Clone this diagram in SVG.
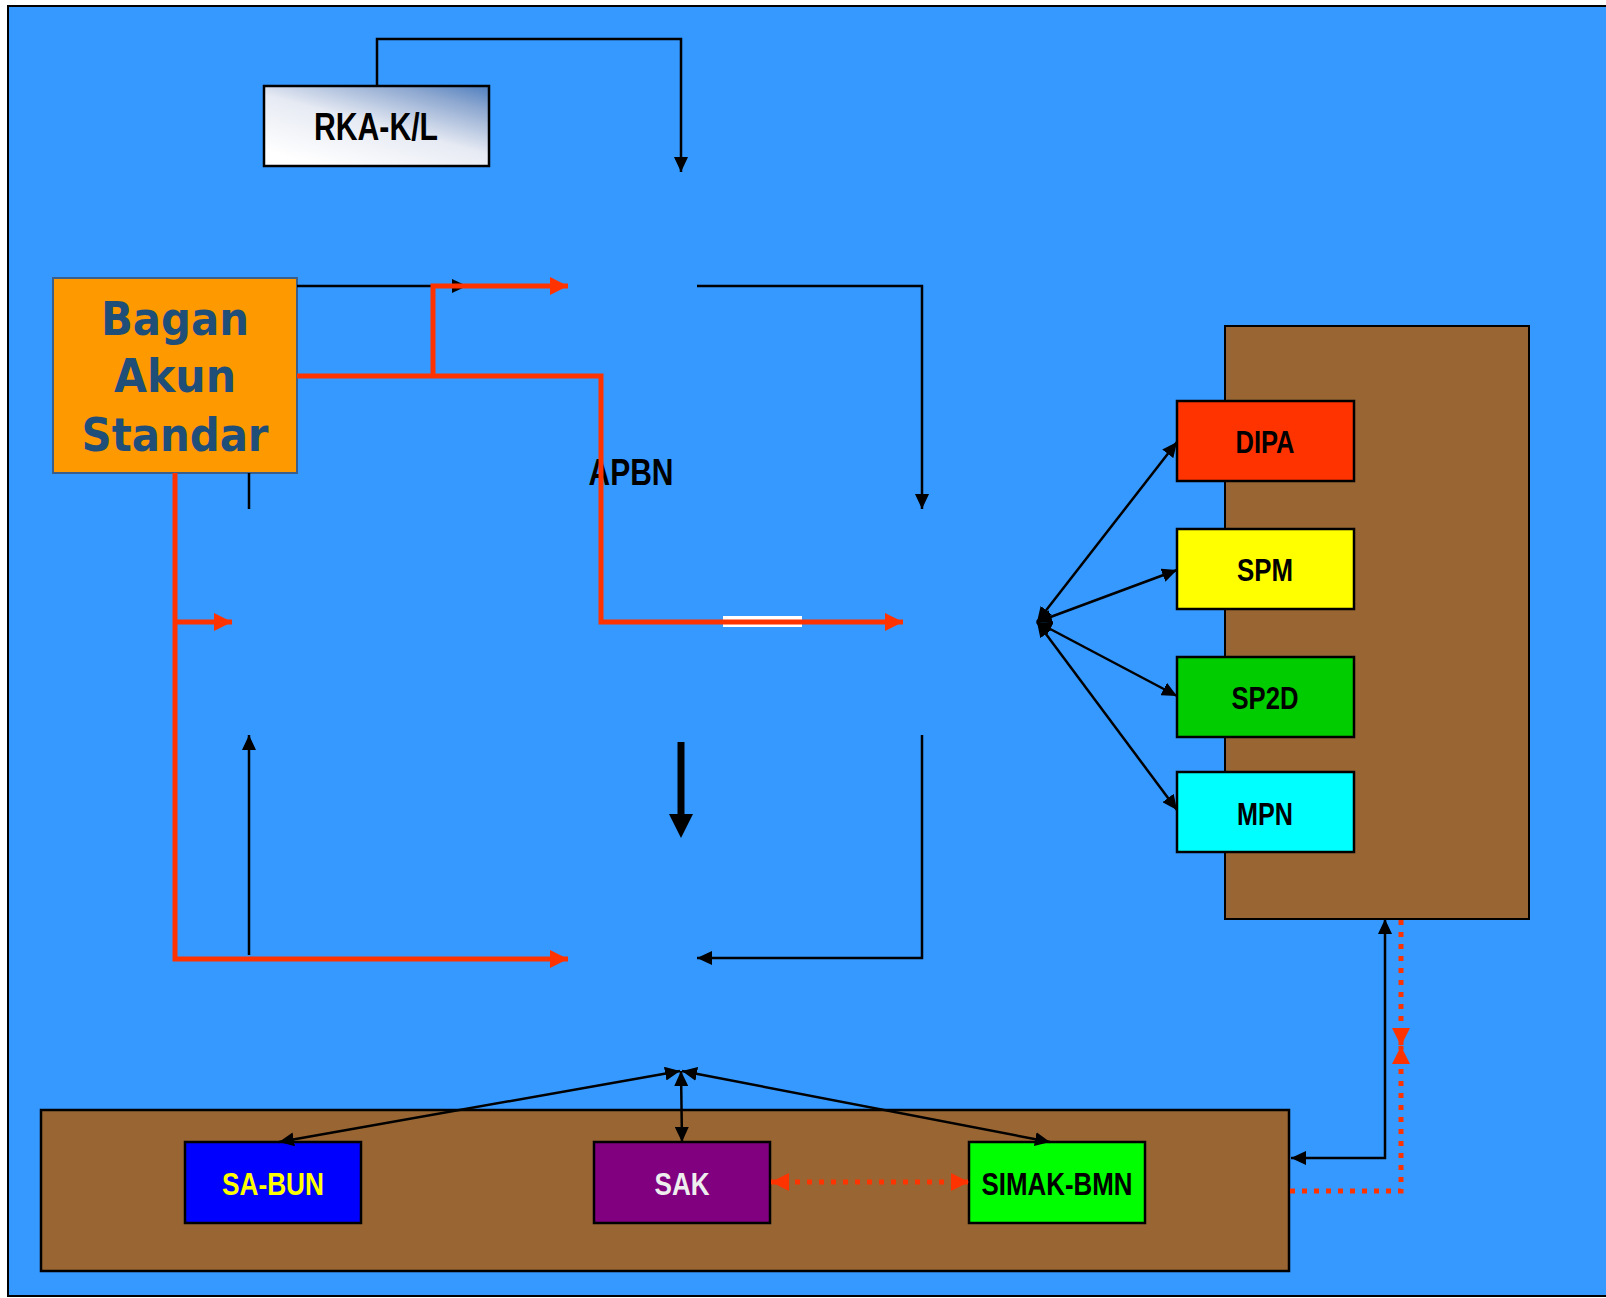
<svg xmlns="http://www.w3.org/2000/svg" width="1606" height="1298" viewBox="0 0 1606 1298">
<defs>
<linearGradient id="rkaGrad" x1="0.25" y1="1" x2="1" y2="0">
<stop offset="0" stop-color="#ffffff"/>
<stop offset="0.45" stop-color="#e6eaf3"/>
<stop offset="0.8" stop-color="#8ea8d0"/>
<stop offset="1" stop-color="#4f7fbf"/>
</linearGradient>
<marker id="ab" markerUnits="userSpaceOnUse" markerWidth="15" markerHeight="14" viewBox="0 0 15 14" refX="15" refY="7" orient="auto-start-reverse"><path d="M0,0 L15,7 L0,14 z" fill="#000"/></marker>
<marker id="ar" markerUnits="userSpaceOnUse" markerWidth="18" markerHeight="18" viewBox="0 0 18 18" refX="18" refY="9" orient="auto-start-reverse"><path d="M0,0 L18,9 L0,18 z" fill="#ff3300"/></marker>
<marker id="athick" markerUnits="userSpaceOnUse" markerWidth="24" markerHeight="24" viewBox="0 0 24 24" refX="2" refY="12" orient="auto"><path d="M0,0 L24,12 L0,24 z" fill="#000"/></marker>
<style>
.box{stroke:#000;stroke-width:2.5}
.lbl{font-family:"Liberation Sans Narrow","Liberation Sans",Arial,sans-serif;font-weight:bold;text-anchor:middle}
.blk{fill:none;stroke:#000;stroke-width:2.5}
.red{fill:none;stroke:#ff3300;stroke-width:5}
.dot{fill:none;stroke:#ff3300;stroke-width:5;stroke-dasharray:5 7}
.bas{font-family:"DejaVu Sans",Verdana,sans-serif;font-weight:bold;fill:#1f4e79;text-anchor:middle;font-size:46px}
</style>
</defs>
<rect x="8" y="6" width="1610" height="1290" fill="#3699ff" stroke="#000" stroke-width="2"/>

<g id="container-right"><rect x="1225" y="326" width="304" height="593" fill="#996633" stroke="#000" stroke-width="2"/></g>
<g id="container-bottom"><rect x="41" y="1110" width="1248" height="161" fill="#996633" stroke="#000" stroke-width="2.5"/></g>

<g id="rka"><rect x="264" y="86" width="225" height="80" fill="url(#rkaGrad)" class="box"/>
<text x="376" y="140" class="lbl" font-size="38" textLength="124" lengthAdjust="spacingAndGlyphs">RKA-K/L</text></g>

<g id="bas"><rect x="53" y="278" width="244" height="195" fill="#ff9900" stroke="#3a5f8a" stroke-width="2"/>
<text x="175" y="335" class="bas" textLength="148" lengthAdjust="spacingAndGlyphs">Bagan</text>
<text x="175" y="392" class="bas" textLength="122" lengthAdjust="spacingAndGlyphs">Akun</text>
<text x="175" y="451" class="bas" textLength="187" lengthAdjust="spacingAndGlyphs">Standar</text></g>

<g id="apbn"><text x="631" y="485" class="lbl" font-size="36" textLength="85" lengthAdjust="spacingAndGlyphs">APBN</text></g>

<g id="dipa"><rect x="1177" y="401" width="177" height="80" fill="#ff3300" class="box"/>
<text x="1265" y="453" class="lbl" font-size="32" textLength="59" lengthAdjust="spacingAndGlyphs">DIPA</text></g>
<g id="spm"><rect x="1177" y="529" width="177" height="80" fill="#ffff00" class="box"/>
<text x="1265" y="581" class="lbl" font-size="32" textLength="56" lengthAdjust="spacingAndGlyphs">SPM</text></g>
<g id="sp2d"><rect x="1177" y="657" width="177" height="80" fill="#00cc00" class="box"/>
<text x="1265" y="709" class="lbl" font-size="32" textLength="67" lengthAdjust="spacingAndGlyphs">SP2D</text></g>
<g id="mpn"><rect x="1177" y="772" width="177" height="80" fill="#00ffff" class="box"/>
<text x="1265" y="825" class="lbl" font-size="32" textLength="56" lengthAdjust="spacingAndGlyphs">MPN</text></g>

<g id="sabun"><rect x="185" y="1142" width="176" height="81" fill="#0000ff" class="box"/>
<text x="273" y="1195" class="lbl" font-size="32" fill="#ffff00" textLength="102" lengthAdjust="spacingAndGlyphs">SA-BUN</text></g>
<g id="sak"><rect x="594" y="1142" width="176" height="81" fill="#800080" class="box"/>
<text x="682" y="1195" class="lbl" font-size="32" fill="#eeeeee" textLength="55" lengthAdjust="spacingAndGlyphs">SAK</text></g>
<g id="simak"><rect x="969" y="1142" width="176" height="81" fill="#00ff00" class="box"/>
<text x="1057" y="1195" class="lbl" font-size="32" fill="#000" textLength="151" lengthAdjust="spacingAndGlyphs">SIMAK-BMN</text></g>

<g id="connectors">
<polyline class="blk" points="377,86 377,39 681,39 681,172" marker-end="url(#ab)"/>
<line class="blk" x1="297" y1="286" x2="467" y2="286" marker-end="url(#ab)"/>
<polyline class="blk" points="697,286 922,286 922,509" marker-end="url(#ab)"/>
<line class="blk" x1="249" y1="473" x2="249" y2="509"/>
<line class="blk" x1="249" y1="955" x2="249" y2="735" marker-end="url(#ab)"/>
<polyline class="blk" points="922,735 922,958 697,958" marker-end="url(#ab)"/>
<line x1="681" y1="742" x2="681" y2="816" stroke="#000" stroke-width="7" marker-end="url(#athick)"/>

<rect x="723" y="616" width="79" height="11" fill="#ffffff"/>
<polyline class="red" points="297,376 601,376 601,622 903,622" marker-end="url(#ar)"/>
<polyline class="red" points="433,376 433,286 568,286" marker-end="url(#ar)"/>
<polyline class="red" points="175,473 175,959 568,959" marker-end="url(#ar)"/>
<line class="red" x1="175" y1="622" x2="232" y2="622" marker-end="url(#ar)"/>

<line class="blk" x1="1037" y1="622" x2="1177" y2="442" marker-start="url(#ab)" marker-end="url(#ab)"/>
<line class="blk" x1="1037" y1="622" x2="1177" y2="570" marker-start="url(#ab)" marker-end="url(#ab)"/>
<line class="blk" x1="1037" y1="622" x2="1177" y2="696" marker-start="url(#ab)" marker-end="url(#ab)"/>
<line class="blk" x1="1037" y1="622" x2="1177" y2="810" marker-start="url(#ab)" marker-end="url(#ab)"/>

<line class="blk" x1="680" y1="1071" x2="279" y2="1142" marker-start="url(#ab)" marker-end="url(#ab)"/>
<line class="blk" x1="681" y1="1071" x2="682" y2="1142" marker-start="url(#ab)" marker-end="url(#ab)"/>
<line class="blk" x1="682" y1="1071" x2="1050" y2="1142" marker-start="url(#ab)" marker-end="url(#ab)"/>

<line class="dot" x1="771" y1="1182" x2="969" y2="1182" marker-start="url(#ar)" marker-end="url(#ar)"/>

<polyline class="blk" points="1385,919 1385,1158 1291,1158" marker-start="url(#ab)" marker-end="url(#ab)"/>
<line class="dot" x1="1401" y1="920" x2="1401" y2="1046" marker-end="url(#ar)"/>
<polyline class="dot" points="1290,1191 1401,1191 1401,1046" marker-end="url(#ar)"/>
</g>
</svg>
